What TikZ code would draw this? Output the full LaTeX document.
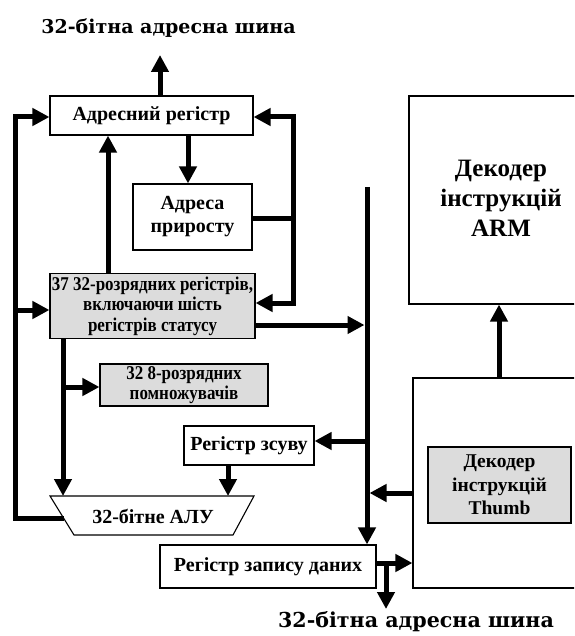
\documentclass[tikz,border=0pt]{standalone}
\usepackage{fontspec}
\setmainfont{Liberation Serif}
\newfontfamily\busfont{DejaVu Serif}
\newfontfamily\narrowfont[FakeStretch=0.87]{Liberation Serif}
\usetikzlibrary{arrows.meta}
\definecolor{boxgrey}{RGB}{220,220,220}

\begin{document}
\begin{tikzpicture}[x=1pt,y=-1pt,
  wire/.style={line width=5pt,line join=miter},
  arr/.style={wire,-{Triangle[length=17pt,width=17pt]}},
  blk/.style={draw,line width=1.1pt,fill=white,inner sep=0pt,align=center,
    font=\bfseries\fontsize{20}{23}\selectfont},
  shaded/.style={blk,fill=boxgrey},
  tight/.style={font=\narrowfont\bfseries\fontsize{19.5}{20.5}\selectfont},
  title/.style={font=\busfont\bfseries\fontsize{19}{22}\selectfont}]

\useasboundingbox (0,0) rectangle (574,636);
\clip (0,0) rectangle (574,636);

% ---- blocks ----
\node[blk,minimum width=203pt,minimum height=39pt] (areg) at (151.5,115.5) {Адресний регістр};
\node[blk,minimum width=119pt,minimum height=66pt] (inc) at (192.5,217) {Адреса\\приросту};
\node[shaded,tight,minimum width=205pt,minimum height=65pt] (regs) at (152.5,306)
  {37 32-розрядних регістрів,\\включаючи шість\\регістрів статусу};
\node[shaded,tight,minimum width=168pt,minimum height=42pt] (mul) at (184,385)
  {32 8-розрядних\\помножувачів};
\node[blk,minimum width=130pt,minimum height=39pt] (shift) at (249,445.5) {Регістр зсуву};
\node[blk,minimum width=216pt,minimum height=43pt] (wreg) at (268,566.5) {Регістр запису даних};

% instruction decoders (run past the right edge)
\node[blk,minimum width=200pt,minimum height=208pt] (arm) at (509,200) {};
\node[align=center,inner sep=0pt,font=\bfseries\fontsize{25}{30}\selectfont] (armtxt) at (501,198) {Декодер\\інструкцій\\ARM};
\node[blk,minimum width=200pt,minimum height=210pt] (decT) at (513,483) {};
\node[shaded,minimum width=143pt,minimum height=76pt,font=\bfseries\fontsize{19.5}{23.5}\selectfont] (thumb) at (499.5,485)
  {Декодер\\інструкцій\\Thumb};

% ALU
\draw[line width=1.1pt,fill=white] (50,496) -- (254,496) -- (233,535) -- (74,535) -- cycle;
\node[font=\bfseries\fontsize{20}{23}\selectfont] (alu) at (153,516) {32-бітне АЛУ};

% bus labels
\node[title] (tbus) at (168.5,28) {32-бітна адресна шина};
\node[title,font=\busfont\bfseries\fontsize{20.6}{24}\selectfont] (bbus) at (416,622) {32-бітна адресна шина};

% ---- reference columns and rows ----
\coordinate (xL) at (15,0);
\coordinate (xR) at (293,0);
\coordinate (xB) at (367,0);
\coordinate (xTop) at (160,0);
\coordinate (xUp) at (108,0);
\coordinate (xDn) at (63,0);
\coordinate (xInc) at (188,0);
\coordinate (xSh) at (228,0);
\coordinate (xOut) at (386,0);
\coordinate (xDec) at (499,0);
\coordinate (yTop) at (0,55);
\coordinate (yA) at (0,117);
\coordinate (yBus) at (0,187);
\coordinate (yIncR) at (0,218);
\coordinate (yRin) at (0,303);
\coordinate (yLin) at (0,310);
\coordinate (yRout) at (0,325);
\coordinate (yMul) at (0,387);
\coordinate (ySh) at (0,441);
\coordinate (yTh) at (0,493);
\coordinate (yAluT) at (0,496);
\coordinate (yAlu) at (0,518);
\coordinate (yW) at (0,563);
\coordinate (yBot) at (0,609);
\coordinate (aluL) at (64,518);

% ---- connectors ----
\draw[arr] (areg.north -| xTop) -- (xTop |- yTop);
\draw[arr] (areg.south -| xInc) -- (inc.north -| xInc);
\draw[arr] (regs.north -| xUp) -- (areg.south -| xUp);

% increment feedback
\draw[wire] (inc.east |- yIncR) -- (xR |- yIncR);
\draw[arr] (xR |- yIncR) -- (xR |- yA) -- (areg.east |- yA);
\draw[arr] (xR |- yIncR) -- (xR |- yRin) -- (regs.east |- yRin);

% ALU result feedback
\draw[arr] (aluL) -- (xL |- yAlu) -- (xL |- yA) -- (areg.west |- yA);
\draw[arr] (xL |- yLin) -- (regs.west |- yLin);

% register file outputs
\draw[arr] (regs.south -| xDn) -- (xDn |- yAluT);
\draw[arr] (xDn |- yMul) -- (mul.west |- yMul);
\draw[arr,shorten >=2.5pt] (regs.east |- yRout) -- (xB |- yRout);

% data bus
\draw[arr] (xB |- yBus) -- (wreg.north -| xB);
\draw[arr] (xB |- ySh) -- (shift.east |- ySh);
\draw[arr] (shift.south -| xSh) -- (xSh |- yAluT);
\draw[arr,shorten >=2.5pt] (decT.west |- yTh) -- (xB |- yTh);

% write register outputs
\draw[arr] (wreg.east |- yW) -- (decT.west |- yW);
\draw[arr] (xOut |- yW) -- (xOut |- yBot);

% decoder chain
\draw[arr] (decT.north -| xDec) -- (arm.south -| xDec);
\end{tikzpicture}
\end{document}
